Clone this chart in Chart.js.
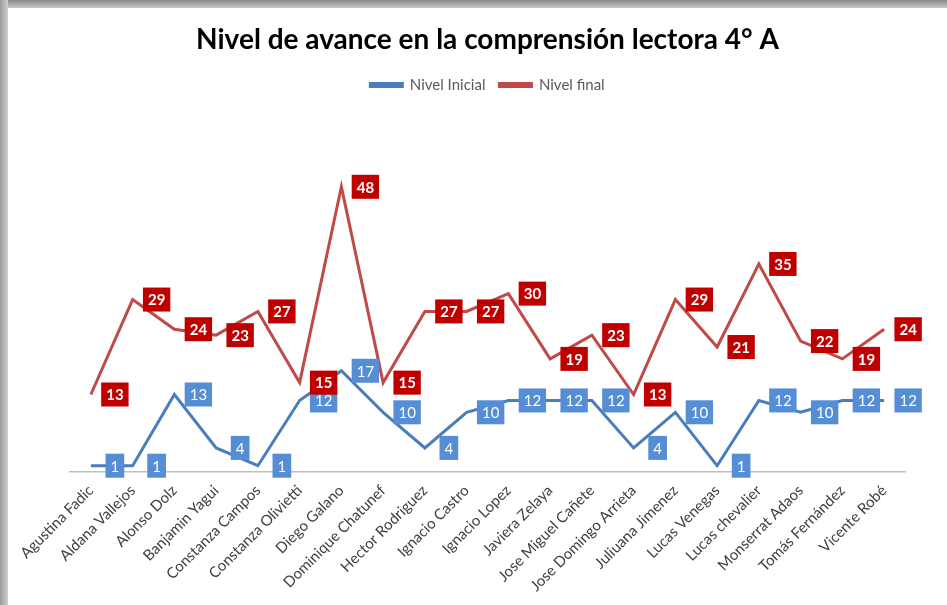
<!DOCTYPE html>
<html>
<head>
<meta charset="utf-8">
<script src="https://cdn.jsdelivr.net/npm/chart.js@4.4.0/dist/chart.umd.min.js"></script>
<style>
    html, body { margin: 0; padding: 0; }
    body {
        width: 947px;
        height: 605px;
        overflow: hidden;
        background: #fff;
        position: relative;
    }
    .topShade {
        position: absolute; left: 0; top: 0; width: 947px; height: 8px;
        background: linear-gradient(#8a8a8a, #c8c8c8);
    }
    .leftShade {
        position: absolute; left: 0; top: 0; width: 8px; height: 605px;
        background: linear-gradient(90deg, #9a9a9a, #d0d0d0);
    }
    #wrap {
        position: absolute; left: 8px; top: 8px; width: 939px; height: 597px;
        background: #fff;
    }
</style>
</head>
<body>
<div class="topShade"></div>
<div class="leftShade"></div>
<div id="wrap"><canvas id="chart"></canvas></div>
<script>
const students = [
    'Agustina Fadic', 'Aldana Vallejos', 'Alonso Dolz', 'Banjamin Yagui',
    'Constanza Campos', 'Constanza Olivietti', 'Diego Galano', 'Dominique Chatunef',
    'Hector Rodriguez', 'Ignacio Castro', 'Ignacio Lopez', 'Javiera Zelaya',
    'Jose Miguel Cañete', 'Jose Domingo Arrieta', 'Juliuana Jimenez', 'Lucas Venegas',
    'Lucas chevalier', 'Monserrat Adaos', 'Tomás Fernández', 'Vicente Robé'
];
const nivelInicial = [1, 1, 13, 4, 1, 12, 17, 10, 4, 10, 12, 12, 12, 4, 10, 1, 12, 10, 12, 12];
const nivelFinal = [13, 29, 24, 23, 27, 15, 48, 15, 27, 27, 30, 19, 23, 13, 29, 21, 35, 22, 19, 24];

const FONT = 'Lato, "Open Sans", sans-serif';

// boxes with the value, placed to the right of each point
const valueBoxes = {
    id: 'valueBoxes',
    afterDatasetsDraw(chart) {
        const ctx = chart.ctx;
        chart.data.datasets.forEach((ds, i) => {
            const meta = chart.getDatasetMeta(i);
            ctx.save();
            ctx.font = (ds.boxBold ? 'bold ' : '') + '15px ' + FONT;
            ctx.textAlign = 'center';
            ctx.textBaseline = 'middle';
            meta.data.forEach((pt, j) => {
                const txt = String(ds.data[j]);
                const w = ctx.measureText(txt).width + 10;
                const h = 24;
                const cx = pt.x + 24;
                const cy = pt.y;
                ctx.fillStyle = ds.boxColor;
                ctx.fillRect(cx - w / 2, cy - h / 2, w, h);
                ctx.fillStyle = '#fff';
                ctx.fillText(txt, cx, cy + 1);
            });
            ctx.restore();
        });
    }
};

// extra room under the legend
const legendGap = {
    id: 'legendGap',
    beforeInit(chart) {
        const fit = chart.legend.fit;
        chart.legend.fit = function () {
            fit.bind(chart.legend)();
            this.height += 13;
        };
    }
};

const ctx = document.getElementById('chart').getContext('2d');
new Chart(ctx, {
    type: 'line',
    data: {
        labels: students,
        datasets: [{
            label: 'Nivel Inicial',
            data: nivelInicial,
            borderColor: '#4A7EBB',
            backgroundColor: '#4A7EBB',
            borderWidth: 3,
            pointRadius: 0,
            tension: 0,
            boxColor: '#558ED5',
            boxBold: false
        }, {
            label: 'Nivel final',
            data: nivelFinal,
            borderColor: '#BE4B48',
            backgroundColor: '#BE4B48',
            borderWidth: 3,
            pointRadius: 0,
            tension: 0,
            boxColor: '#C00000',
            boxBold: true
        }]
    },
    options: {
        responsive: true,
        maintainAspectRatio: false,
        animation: false,
        layout: { padding: { left: 62, right: 42, top: 12, bottom: 0 } },
        plugins: {
            title: {
                display: true,
                text: 'Nivel de avance en la comprensión lectora 4° A',
                color: '#000',
                font: { family: FONT, size: 28, weight: 'bold' },
                padding: { top: 3, bottom: 7 }
            },
            legend: {
                position: 'top',
                labels: {
                    color: '#595959',
                    font: { family: FONT, size: 15 },
                    boxWidth: 32,
                    boxHeight: 3,
                    padding: 14
                }
            },
            tooltip: { enabled: false }
        },
        scales: {
            x: {
                offset: true,
                grid: { display: false, drawTicks: false },
                border: { color: '#BFBFBF', width: 1.5 },
                ticks: {
                    color: '#404040',
                    font: { family: FONT, size: 15 },
                    minRotation: 45,
                    maxRotation: 45,
                    padding: 10,
                    autoSkip: false
                }
            },
            y: {
                display: false,
                min: 0,
                max: 60
            }
        }
    },
    plugins: [valueBoxes, legendGap]
});
</script>
</body>
</html>
